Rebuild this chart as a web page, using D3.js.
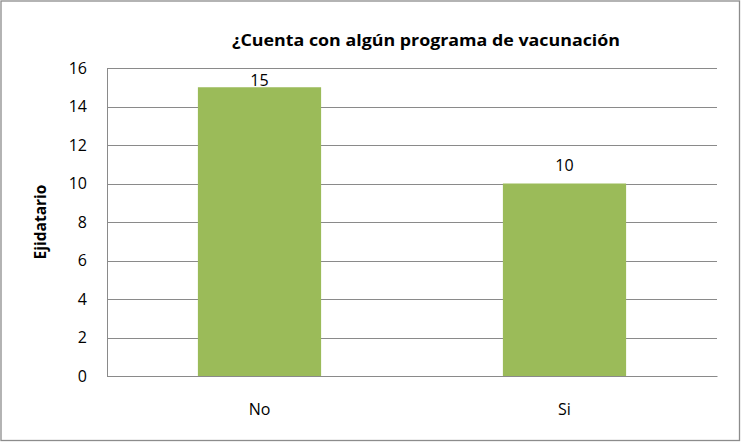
<!DOCTYPE html>
<html>
<head>
<meta charset="utf-8">
<script src="https://cdn.jsdelivr.net/npm/d3@7"></script>
<style>
  body { margin: 0; background: #fff; }
  svg text { font-family: "Open Sans", "Noto Sans", sans-serif; }
</style>
</head>
<body>
<div id="chart"></div>
<script>
// datos
var categories = ["No", "Si"];
var values = [15, 10];
var yTicks = [0, 2, 4, 6, 8, 10, 12, 14, 16];
var title = "¿Cuenta con algún programa de vacunación";
var yTitle = "Ejidatario";

var width = 741,
    height = 442;
var margin = {top: 68, right: 24, bottom: 66, left: 107};
var widthp = width - margin.left - margin.right;
var heightp = height - margin.top - margin.bottom;

var svg = d3.select("#chart")
            .append("svg")
            .attr("width", width)
            .attr("height", height);

// borde exterior
svg.append("rect")
   .attr("x", 1).attr("y", 1)
   .attr("width", width - 2.5).attr("height", height - 2.5)
   .attr("fill", "#fff")
   .attr("stroke", "#8c8c8c")
   .attr("stroke-width", 1.3);

var g = svg.append("g")
           .attr("transform", "translate(" + margin.left + "," + margin.top + ")");

var xScale = d3.scaleBand()
               .domain(categories)
               .range([0, widthp]);
var yScale = d3.scaleLinear()
               .domain([0, 16])
               .range([heightp, 0]);

var barW = xScale.bandwidth() * 0.404;

// gridlines
g.selectAll("line.grid")
 .data(yTicks)
 .enter()
 .append("line")
 .attr("class", "grid")
 .attr("x1", 0)
 .attr("x2", widthp)
 .attr("y1", function(d) { return Math.round(yScale(d)) + 0.5; })
 .attr("y2", function(d) { return Math.round(yScale(d)) + 0.5; })
 .attr("stroke", "#8a8a8a")
 .attr("stroke-width", 1);

// eje y
var yAxis = g.append("g")
             .call(d3.axisLeft(yScale).tickValues(yTicks).tickSize(0).tickPadding(20));
yAxis.select(".domain").attr("stroke", "#8a8a8a");
yAxis.selectAll("text")
     .attr("font-size", "16px")
     .attr("fill", "#000");

// barras
g.selectAll("rect.bar")
 .data(values)
 .enter()
 .append("rect")
 .attr("class", "bar")
 .attr("x", function(d, i) { return xScale(categories[i]) + (xScale.bandwidth() - barW) / 2; })
 .attr("y", function(d) { return yScale(d); })
 .attr("width", barW)
 .attr("height", function(d) { return heightp - yScale(d); })
 .attr("fill", "#9bbb59");

// eje x
var xAxis = g.append("g")
             .attr("transform", "translate(0," + heightp + ")")
             .call(d3.axisBottom(xScale).tickSize(0).tickPadding(28));
xAxis.select(".domain").attr("stroke", "#8a8a8a");
xAxis.selectAll("text")
     .attr("font-size", "16px")
     .attr("fill", "#000");

// etiquetas de datos
g.selectAll("text.label")
 .data(values)
 .enter()
 .append("text")
 .attr("class", "label")
 .attr("x", function(d, i) { return xScale(categories[i]) + xScale.bandwidth() / 2; })
 .attr("y", function(d) { return Math.max(yScale(d) - 13, 18); })
 .attr("text-anchor", "middle")
 .attr("font-size", "16px")
 .text(function(d) { return d; });

// titulo
svg.append("text")
   .attr("x", 426)
   .attr("y", 46)
   .attr("text-anchor", "middle")
   .attr("font-size", "16px")
   .attr("font-weight", "bold")
   .attr("textLength", 388)
   .attr("lengthAdjust", "spacingAndGlyphs")
   .text(title);

// titulo eje y
svg.append("text")
   .attr("transform", "translate(46," + (margin.top + heightp / 2) + ") rotate(-90)")
   .attr("text-anchor", "middle")
   .attr("font-size", "15.5px")
   .attr("font-weight", "bold")
   .text(yTitle);
</script>
</body>
</html>
